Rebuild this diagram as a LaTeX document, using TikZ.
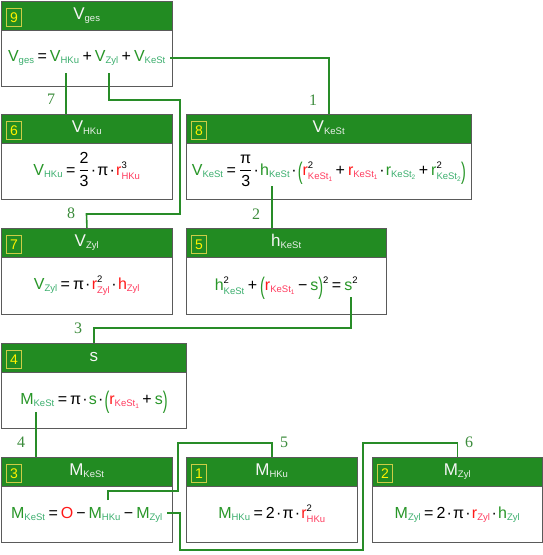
\documentclass[tikz,border=0pt]{standalone}
\usepackage{fontspec}
\setmainfont{Liberation Sans}
\newfontfamily\lblfont{Liberation Serif}
\usepackage{graphicx}
\definecolor{hdr}{RGB}{34,139,34}
\definecolor{bord}{RGB}{90,90,90}
\definecolor{badgeb}{RGB}{205,205,70}
\definecolor{vg}{RGB}{40,150,40}
\definecolor{vgs}{RGB}{60,175,110}
\definecolor{vr}{RGB}{255,25,25}
\definecolor{vrs}{RGB}{255,60,95}
\definecolor{tw}{RGB}{245,245,245}
\definecolor{tws}{RGB}{235,240,235}
\definecolor{lg}{RGB}{40,140,40}
\definecolor{lblc}{RGB}{60,140,60}
\newcommand\fs{\fontsize{16}{18}\selectfont}
\newcommand\ssz{\fontsize{9.5}{11}\selectfont}
\newcommand\Sb[3]{{\color{#1}#2}\ensuremath{_{\mbox{\ssz\color{#1s}#3}}}}
\newcommand\SbSp[4]{{\color{#1}#2}\ensuremath{^{\mbox{\ssz\color{black}#4}}_{\mbox{\ssz\color{#1s}#3}}}}
\newcommand\Sp[1]{\ensuremath{^{\mbox{\ssz\color{black}#1}}}}
\newcommand\idx[1]{\raisebox{-0.35ex}{\fontsize{6.5}{7}\selectfont #1}}
\newcommand\lp[1]{{\color{#1}\raisebox{-4pt}{\scalebox{0.9}[1.5]{(}}}}
\newcommand\rp[1]{{\color{#1}\raisebox{-4pt}{\scalebox{0.9}[1.5]{)}}}}
\newcommand\md{\hspace{1.2pt}·\hspace{1.2pt}}
\newcommand\eq{\hspace{3pt}=\hspace{3pt}}
\newcommand\pl{\hspace{3pt}+\hspace{3pt}}
\newcommand\mi{\hspace{3pt}−\hspace{3pt}}
\newcommand\Frac[2]{$\displaystyle\frac{\mbox{\fs #1}}{\mbox{\fs #2}}$}
\newcommand\Panel[7]{%
  \node[boxst, minimum width=#4pt, minimum height=#5pt, anchor=north west] (b#1) at (#2,#3) {};
  \node[headst, minimum width=#4pt, anchor=north west] (h#1) at (b#1.north west) {};
  \node[badgest] (n#1) at ([xshift=13pt,yshift=-1.5pt]h#1.west) {#6};
  \node[titlest, anchor=base] (t#1) at ([yshift=-18pt]b#1.north) {#7};
}
\tikzset{
  boxst/.style={draw=bord, fill=white, line width=0.9pt, inner sep=0pt},
  headst/.style={draw=bord, fill=hdr, line width=0.9pt, minimum height=29pt, inner sep=0pt},
  badgest/.style={draw=badgeb, line width=0.8pt, text=yellow, minimum width=15pt, minimum height=18pt, inner sep=0pt, font=\fontsize{14}{14}\selectfont},
  titlest/.style={inner sep=0pt, font=\fontsize{17}{18}\selectfont, text=tw},
  formst/.style={inner sep=0pt, font=\fs, anchor=base},
  conn/.style={draw=lg, line width=1.6pt},
  lbl/.style={text=lblc, font=\lblfont\fontsize{16}{16}\selectfont, inner sep=0pt},
}
\begin{document}
\begin{tikzpicture}[x=1pt,y=-1pt]
\useasboundingbox (0,0) rectangle (543,555);
\Panel{9}{1}{1}{171}{85}{9}{\Sb{tw}{V}{ges}}
\Panel{6}{1}{114}{171}{85}{6}{\Sb{tw}{V}{HKu}}
\Panel{8}{186}{114}{285}{85}{8}{\Sb{tw}{V}{KeSt}}
\Panel{7}{1}{228}{171}{86}{7}{\Sb{tw}{V}{Zyl}}
\Panel{5}{186}{228}{200}{86}{5}{\Sb{tw}{h}{KeSt}}
\Panel{4}{1}{343}{185}{85}{4}{s}
\Panel{3}{1}{457}{171}{85}{3}{\Sb{tw}{M}{KeSt}}
\Panel{1}{186}{457}{171}{85}{1}{\Sb{tw}{M}{HKu}}
\Panel{2}{372}{457}{170}{85}{2}{\Sb{tw}{M}{Zyl}}
% formulas
\node[formst] (f9) at ([yshift=-60pt]b9.north) {\Sb{vg}{V}{ges}\eq\Sb{vg}{V}{HKu}\pl\Sb{vg}{V}{Zyl}\pl\Sb{vg}{V}{KeSt}};
\node[formst] (f6) at ([yshift=-61pt]b6.north) {\Sb{vg}{V}{HKu}\eq\Frac{2}{3}\md π\md\SbSp{vr}{r}{HKu}{3}};
\node[formst] (f8) at ([yshift=-61pt]b8.north) {\Sb{vg}{V}{KeSt}\eq\Frac{π}{3}\md\Sb{vg}{h}{KeSt}\md\lp{vg}\SbSp{vr}{r}{KeSt\idx1}{2}\pl\Sb{vr}{r}{KeSt\idx1}\md\Sb{vg}{r}{KeSt\idx2}\pl\SbSp{vg}{r}{KeSt\idx2}{2}\rp{vg}};
\node[formst] (f7) at ([yshift=-61pt]b7.north) {\Sb{vg}{V}{Zyl}\eq π\md\SbSp{vr}{r}{Zyl}{2}\md\Sb{vr}{h}{Zyl}};
\node[formst] (f5) at ([yshift=-62pt]b5.north) {\SbSp{vg}{h}{KeSt}{2}\pl\lp{vg}\Sb{vr}{r}{KeSt\idx1}\mi{\color{vg}s}\rp{vg}\Sp{2}\eq{\color{vg}s}\Sp{2}};
\node[formst] (f4) at ([yshift=-61pt]b4.north) {\Sb{vg}{M}{KeSt}\eq π\md{\color{vg}s}\md\lp{vg}\Sb{vr}{r}{KeSt\idx1}\pl{\color{vg}s}\rp{vg}};
\node[formst] (f3) at ([yshift=-61pt]b3.north) {\Sb{vg}{M}{KeSt}\eq{\color{vr}O}\mi\Sb{vg}{M}{HKu}\mi\Sb{vg}{M}{Zyl}};
\node[formst] (f1) at ([yshift=-61pt]b1.north) {\Sb{vg}{M}{HKu}\eq 2\md π\md\SbSp{vr}{r}{HKu}{2}};
\node[formst] (f2) at ([yshift=-61pt]b2.north) {\Sb{vg}{M}{Zyl}\eq 2\md π\md\Sb{vr}{r}{Zyl}\md\Sb{vg}{h}{Zyl}};
% connector start points
\coordinate (c1) at (170,58);
\coordinate (c7) at (66,73);
\coordinate (c8) at (109,73);
\coordinate (c2) at (272,186);
\coordinate (c3) at (351,297);
\coordinate (c4) at (36,412);
\coordinate (c5) at (108,500);
\coordinate (c6) at (167,513);
% connectors
\draw[conn] (c1) -| (b8.north);
\draw[conn] (c7) -- (c7 |- b6.north);
\draw[conn] (c8) |- (180,100) |- (86.5,214) -- (b7.north);
\draw[conn] (c2) -- (c2 |- b5.north);
\draw[conn] (c3) -- ++(0,31) -| (b4.north);
\draw[conn] (c4) -- (c4 |- b3.north);
\draw[conn] (c5) -- ++(0,-9) -| ++(70,-48) -| (b1.north);
\draw[conn] (c6) -| ++(13,37) -| ++(183,-107) -| (b2.north);
% labels
\node[lbl] (l1) at (313,100) {1};
\node[lbl] (l2) at (256,214) {2};
\node[lbl] (l3) at (78,328) {3};
\node[lbl] (l4) at (21,442) {4};
\node[lbl] (l5) at (284,442) {5};
\node[lbl] (l6) at (469,442) {6};
\node[lbl] (l7) at (51,99) {7};
\node[lbl] (l8) at (71,213) {8};
\end{tikzpicture}
\end{document}
